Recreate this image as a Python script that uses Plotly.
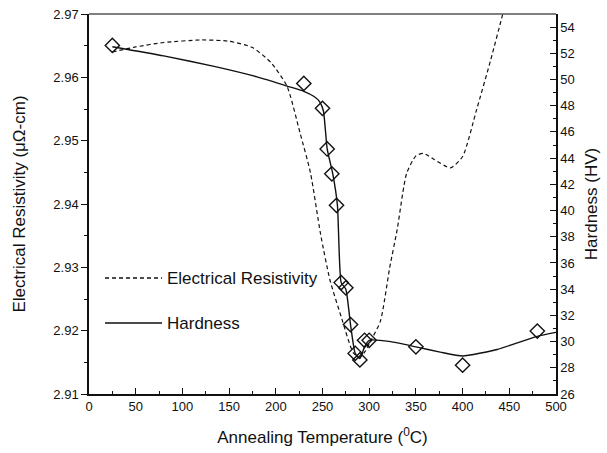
import plotly.graph_objects as go

# Measured hardness (HV) at each annealing temperature (deg C)
temp_hv = [25, 230, 250, 255, 260, 265, 270, 275, 280, 285, 290, 295, 300, 350, 400, 480]
hardness = [52.6, 49.7, 47.8, 44.7, 42.8, 40.4, 34.5, 34.1, 31.3, 29.1, 28.6, 30.1, 30.1, 29.6, 28.2, 30.8]

# Smoothed hardness trend line
temp_hv_fit = [25, 80, 134, 180, 212, 230, 241, 247, 251, 255, 261, 266, 270, 275,
               280, 285, 290, 295, 300, 323, 350, 376, 400, 437, 480, 500]
hardness_fit = [52.5, 51.8, 51.0, 50.2, 49.5, 49.1, 48.7, 48.3, 47.6, 44.7, 42.8, 40.4, 34.5, 34.0,
                31.3, 29.1, 28.7, 29.6, 30.1, 30.0, 29.6, 29.2, 28.9, 29.4, 30.4, 30.7]

# Electrical resistivity trend (micro-ohm cm)
temp_er = [25, 50, 80, 120, 150, 175, 195, 212, 226, 237, 248, 258, 270, 283, 290, 296,
           302, 312, 322, 330, 340, 350, 358, 370, 387, 400, 415, 430, 443, 455]
resistivity = [2.9640, 2.9648, 2.9655, 2.9659, 2.9657, 2.9647, 2.9623, 2.9586, 2.9512, 2.9450,
               2.9352, 2.9280, 2.9222, 2.9165, 2.9158, 2.9168, 2.9185, 2.9215, 2.9300, 2.9360,
               2.9448, 2.9476, 2.9480, 2.9470, 2.9457, 2.9475, 2.9549, 2.9627, 2.9700, 2.9770]

x_ticks = list(range(0, 501, 50))
er_ticks = [2.91, 2.92, 2.93, 2.94, 2.95, 2.96, 2.97]
hv_ticks = list(range(26, 55, 2))

FONT = "Liberation Sans, Arial, sans-serif"
INK = "#111111"

fig = go.Figure()

fig.add_trace(go.Scatter(
    x=temp_er, y=resistivity, mode="lines", name="Electrical Resistivity",
    line=dict(color=INK, width=1.2, dash="4px,3px", shape="spline", smoothing=0.6),
    showlegend=False,
))
fig.add_trace(go.Scatter(
    x=temp_hv_fit, y=hardness_fit, mode="lines", name="Hardness", yaxis="y2",
    line=dict(color=INK, width=1.4, shape="spline", smoothing=0.5),
    showlegend=False,
))
fig.add_trace(go.Scatter(
    x=temp_hv, y=hardness, mode="markers", yaxis="y2", showlegend=False,
    marker=dict(symbol="diamond-open", size=11, color=INK, line=dict(width=1.4, color=INK)),
))

# Top frame line of the plot area
fig.add_shape(type="line", xref="paper", yref="paper", x0=0, x1=1, y0=1, y1=1,
              line=dict(color="#555555", width=1.5))

# Legend drawn inside the plot area
legend_rows = [("Electrical Resistivity", "4px,3px", 278), ("Hardness", "solid", 323)]
for label, dash, ypx in legend_rows:
    yp = 1 - (ypx - 14) / 380.0
    fig.add_shape(type="line", xref="paper", yref="paper",
                  x0=(105 - 89) / 467.0, x1=(162 - 89) / 467.0, y0=yp, y1=yp,
                  line=dict(color=INK, width=1.3, dash=dash))
    fig.add_annotation(text=label, xref="paper", yref="paper",
                       x=(165 - 89) / 467.0, y=yp, xanchor="left", yanchor="middle",
                       showarrow=False, font=dict(family=FONT, size=17, color=INK))

fig.update_layout(
    width=607, height=453,
    margin=dict(l=89, r=51, t=14, b=59, autoexpand=False),
    paper_bgcolor="white", plot_bgcolor="white",
    font=dict(family=FONT, size=13, color=INK),
    showlegend=False,
    xaxis=dict(
        range=[0, 500], tickvals=x_ticks, ticks="inside", ticklen=6, tickwidth=1.3,
        tickcolor=INK, showline=True, linecolor=INK, linewidth=1.5,
        showgrid=False, zeroline=False, automargin=False,
        minor=dict(dtick=25, ticks="inside", ticklen=3, tickwidth=1.2, tickcolor=INK),
        tickfont=dict(family=FONT, size=13, color=INK),
        title=dict(text="Annealing Temperature (<sup>0</sup>C)", standoff=18,
                   font=dict(family=FONT, size=17, color=INK)),
    ),
    yaxis=dict(
        range=[2.91, 2.97], tickvals=er_ticks, tickformat=".2f", ticks="outside",
        ticklen=6, tickwidth=1.3, tickcolor=INK, showline=True, linecolor=INK,
        linewidth=1.5, showgrid=False, zeroline=False, automargin=False,
        minor=dict(dtick=0.005, ticks="outside", ticklen=3, tickwidth=1.2, tickcolor=INK),
        tickfont=dict(family=FONT, size=13, color=INK),
        title=dict(text="Electrical Resistivity (\u03bc\u03a9-cm)", standoff=23,
                   font=dict(family=FONT, size=17, color=INK)),
    ),
    yaxis2=dict(
        range=[26, 55], tickvals=hv_ticks, overlaying="y", side="right", anchor="x",
        ticks="inside", ticklen=6, tickwidth=1.3, tickcolor=INK, showline=True,
        linecolor=INK, linewidth=1.5, showgrid=False, zeroline=False, automargin=False,
        minor=dict(dtick=1, ticks="inside", ticklen=3, tickwidth=1.2, tickcolor=INK),
        tickfont=dict(family=FONT, size=13, color=INK),
        title=dict(text="Hardness (HV)", standoff=11,
                   font=dict(family=FONT, size=17, color=INK)),
    ),
)

fig.write_html("out.html")
